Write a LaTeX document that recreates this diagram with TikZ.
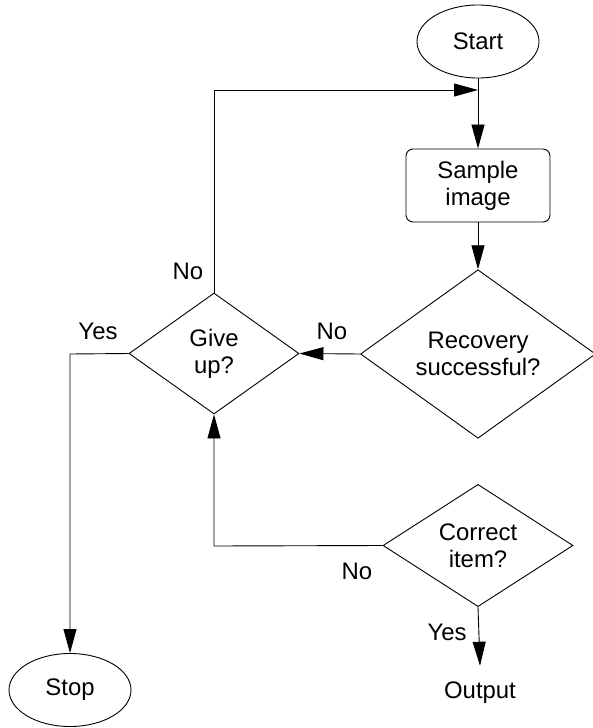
\documentclass[tikz,border=0pt]{standalone}
\usepackage{fontspec}
\setmainfont{Liberation Sans}
\usetikzlibrary{shapes.geometric,arrows.meta}
\begin{document}
\begin{tikzpicture}[x=1bp,y=-1bp,line width=0.9bp,
  every node/.style={font=\fontsize{24}{27}\selectfont, inner sep=0pt},
  term/.style={ellipse, draw, minimum width=122bp, minimum height=73bp},
  proc/.style={rectangle, rounded corners=7bp, draw, minimum width=144bp, minimum height=73bp, align=center},
  dec/.style={diamond, draw, align=center},
  arr/.style={-{Triangle[length=24bp,width=13bp]}}]
\useasboundingbox (0,0) rectangle (593,728);
\node[term] (start) at (478,41.5) {Start};
\coordinate (j) at (478,90);
\node[proc] (sample) at (478,185.5) {Sample\\image};
\node[dec, minimum width=235bp, minimum height=142bp] (rec) at (478,354) {Recovery\\successful?};
\node[dec, minimum width=170bp, minimum height=121bp] (give) at (214,353.5) {Give\\up?};
\node[dec, minimum width=190bp, minimum height=121bp] (corr) at (478,545.5) {Correct\\item?};
\node (out) at (480,693) {Output};
\node[term] (stop) at (70,690) {Stop};
\coordinate (tl) at (214,90);
\coordinate (bl) at (214,546);
\coordinate (yl) at (70,354);
\node (nTop) at (188,271) {No};
\node (yGive) at (98,331) {Yes};
\node (nRec) at (332,331) {No};
\node (nCorr) at (357,571) {No};
\node (yCorr) at (447,632) {Yes};
\draw[arr] (start.south) -- (sample.north);
\draw[arr] (sample.south) -- (rec.north);
\draw[arr] (rec.west) -- (give.east);
\draw[arr] (corr.south) -- ([yshift=16bp]out.north);
\draw[arr] (give.north) -- (tl) -- (j);
\draw[arr] (corr.west) -- (bl) -- (give.south);
\draw[arr] (give.west) -- (yl) -- (stop.north);
\end{tikzpicture}
\end{document}
